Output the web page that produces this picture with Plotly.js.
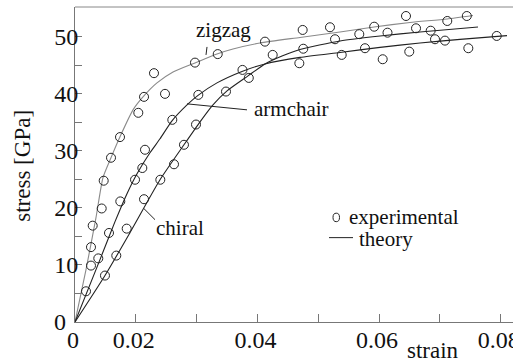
<!DOCTYPE html>
<html>
<head>
<meta charset="utf-8">
<script src="https://cdn.plot.ly/plotly-3.0.1.min.js"></script>
<style>html,body{margin:0;padding:0;background:#fff;}#chart{width:513px;height:362px;}</style>
</head>
<body>
<div id="chart"></div>
<script>
// ---- data (strain, stress in GPa) ----
const zigzagExpX = [0.01263,0.01263,0.01291,0.01439,0.01472,0.01592,0.01740,0.02041,0.02135,0.02299,0.02480,0.02973,0.03347,0.04124,0.04744,0.05193,0.05920,0.06443,0.07122,0.07443];
const zigzagExpY = [9.88,13.11,16.87,19.88,24.74,28.76,32.38,36.63,39.42,43.57,39.95,45.42,46.91,49.09,51.14,51.61,51.71,53.58,52.71,53.58];

const armchairExpX = [0.01181,0.01383,0.01559,0.01745,0.01987,0.02107,0.02151,0.02600,0.03028,0.03754,0.04689,0.05386,0.05769,0.06060,0.06497,0.06920,0.07084,0.07468,0.07935];
const armchairExpY = [5.38,11.14,15.59,21.12,24.91,26.96,30.16,35.40,39.77,44.14,45.31,46.77,47.94,46.01,47.34,49.51,49.27,47.94,50.09];

const chiralExpX = [0.01493,0.01679,0.01850,0.02135,0.02403,0.02628,0.02792,0.02990,0.03483,0.03858,0.04251,0.04754,0.05276,0.05675,0.06139,0.06608,0.06849];
const chiralExpY = [8.13,11.63,16.35,21.50,24.91,27.62,31.03,34.58,40.35,42.74,46.77,47.85,49.51,50.40,50.66,51.43,51.01];

const zigzagThX = [0.01000,0.01181,0.01345,0.01460,0.01592,0.01740,0.01954,0.02118,0.02348,0.02612,0.02973,0.03335,0.03598,0.04042,0.04700,0.05358,0.05917,0.06509,0.07117,0.07545];
const zigzagThY = [0,9.18,18.27,25.26,28.76,32.43,37.15,39.42,41.87,43.79,45.37,46.94,47.81,48.86,49.83,50.79,51.66,52.45,53.06,53.67];

const armchairThX = [0.01000,0.01411,0.01658,0.01855,0.02020,0.02233,0.02398,0.02595,0.02842,0.03023,0.03335,0.03746,0.04124,0.04700,0.05358,0.06016,0.06673,0.07331,0.08104];
const armchairThY = [0,10.93,17.57,22.47,25.96,29.63,32.08,35.23,38.02,39.69,41.87,43.88,45.19,46.33,47.20,48.08,48.86,49.48,50.14];

const chiralThX = [0.01000,0.01493,0.01904,0.02398,0.02792,0.03056,0.03269,0.03500,0.03845,0.04124,0.04404,0.04700,0.05358,0.06016,0.06673,0.07627];
const chiralThY = [0,8.13,15.65,24.91,31.03,35.05,38.02,40.47,43.09,45.19,46.59,47.73,49.21,50.09,50.79,51.66];

const xTickVals = [0.01,0.02,0.03,0.04,0.05,0.06,0.07,0.08];
const xTickText = ['0','0.02','','0.04','','0.06','','0.08'];
const yTickVals = [0,5,10,15,20,25,30,35,40,45,50];
const yTickText = ['','','10','','20','','30','','40','','50'];
const yOriginLabel = '0';

// ---- layout helpers (pixel -> paper) ----
const L = 75, T = 7, W = 438, H = 315.5;
const px = x => (x - L) / W;
const py = y => (T + H - y) / H;

const FONT = 'Liberation Serif';
const ink = '#111';

function lineTrace(x, y, color) {
  return {x, y, mode: 'lines', type: 'scatter', hoverinfo: 'skip',
    line: {color, width: 1.1, shape: 'spline', smoothing: 0.6}, showlegend: false};
}
function ptsTrace(x, y) {
  return {x, y, mode: 'markers', type: 'scatter',
    marker: {symbol: 'circle-open', size: 9, color: '#222', line: {width: 1, color: '#222'}}, showlegend: false};
}

const data = [
  lineTrace(zigzagThX, zigzagThY, '#8a8a8a'),
  lineTrace(armchairThX, armchairThY, '#222'),
  lineTrace(chiralThX, chiralThY, '#222'),
  ptsTrace(zigzagExpX, zigzagExpY),
  ptsTrace(armchairExpX, armchairExpY),
  ptsTrace(chiralExpX, chiralExpY)
];

function ann(text, x, y, size, xanchor, extra) {
  return Object.assign({text, xref: 'paper', yref: 'paper', x: px(x), y: py(y),
    xanchor: xanchor || 'center', yanchor: 'middle', showarrow: false,
    font: {family: FONT, size: size, color: ink}}, extra || {});
}
function seg(x0, y0, x1, y1, color) {
  return {type: 'line', xref: 'paper', yref: 'paper', x0: px(x0), y0: py(y0), x1: px(x1), y1: py(y1),
    line: {color: color || '#222', width: 1}};
}

const layout = {
  width: 513, height: 362,
  margin: {l: L, r: 0, t: T, b: 362 - T - H, pad: 0},
  paper_bgcolor: '#fff', plot_bgcolor: '#fff',
  showlegend: false,
  font: {family: FONT, color: ink},
  xaxis: {range: [0.01, 0.01 + W / 6081], showgrid: false, zeroline: false,
    showline: true, linecolor: '#777', linewidth: 1,
    ticks: 'inside', ticklen: 8, tickcolor: '#777', tickwidth: 1,
    tickvals: xTickVals, ticktext: xTickText, ticklabeloverflow: 'allow',
    ticklabelstandoff: -4, ticklabelshift: -2,
    tickfont: {family: FONT, size: 24, color: ink}},
  yaxis: {range: [0, H / 5.72], showgrid: false, zeroline: false,
    showline: true, linecolor: '#777', linewidth: 1,
    ticks: 'inside', ticklen: 7, tickcolor: '#777', tickwidth: 1,
    tickvals: yTickVals, ticktext: yTickText, ticklabeloverflow: 'allow',
    ticklabelstandoff: -9,
    tickfont: {family: FONT, size: 24, color: ink}},
  shapes: [
    seg(75, 7, 513, 7, '#888'),
    seg(207, 47, 206, 55),
    seg(187, 104, 247, 110),
    seg(144, 209, 155, 220),
    seg(329, 238, 353, 238),
    {type: 'circle', xref: 'paper', yref: 'paper', x0: px(333), x1: px(339.5), y0: py(222), y1: py(213.5),
      line: {color: '#222', width: 1}}
  ],
  annotations: [
    ann(yOriginLabel, 59.5, 322, 24),
    ann('zigzag', 223, 30, 21),
    ann('armchair', 291, 109, 21),
    ann('chiral', 180, 228, 21),
    ann('experimental', 347, 217, 21, 'left'),
    ann('theory', 357, 239, 21, 'left'),
    ann('strain', 433, 351, 23),
    ann('stress [GPa]', 23, 166, 23, 'center', {textangle: -90})
  ]
};

Plotly.newPlot('chart', data, layout, {displayModeBar: false});
</script>
</body>
</html>
